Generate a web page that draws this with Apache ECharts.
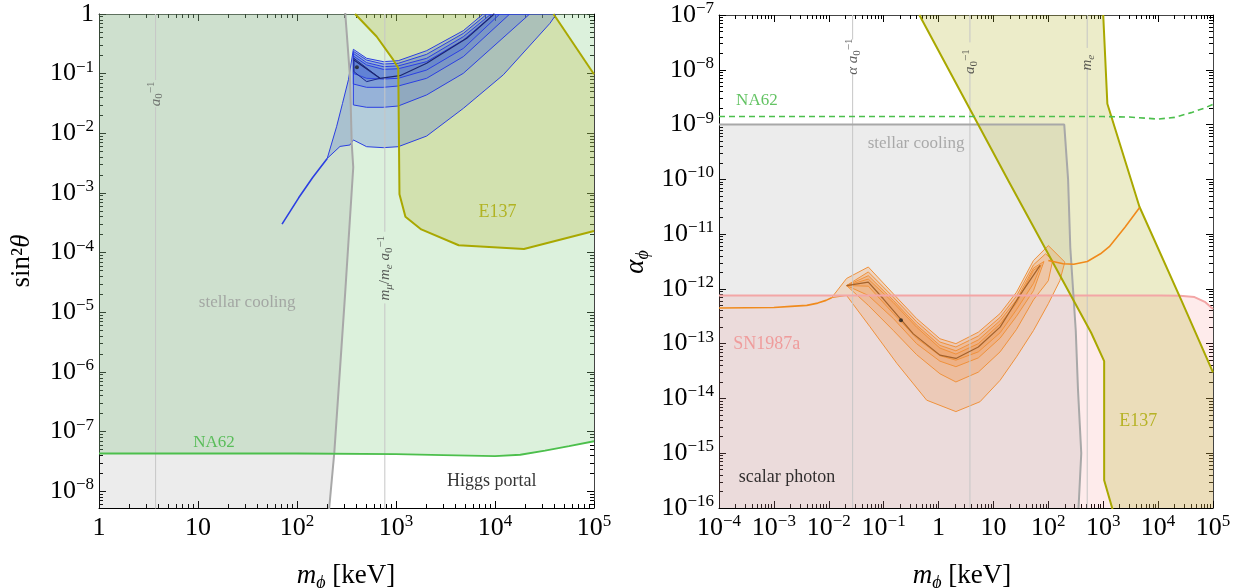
<!DOCTYPE html>
<html>
<head>
<meta charset="utf-8">
<script src="https://cdn.jsdelivr.net/npm/echarts@6/dist/echarts.min.js"></script>
<style>
html, body { margin: 0; padding: 0; background: #fff; }
#chart { width: 1247px; height: 588px; }
</style>
</head>
<body>
<div id="chart"></div>
<script>
// ---- left panel: Higgs portal, m_phi [keV] vs sin^2 theta ----
const hpRangeX = [1, 1e5];
const hpRangeY = [5.25e-9, 1];
const hpTicksX = [1, 10, 100, 1e3, 1e4, 1e5];
const hpTicksY = [1e-8, 1e-7, 1e-6, 1e-5, 1e-4, 1e-3, 1e-2, 1e-1, 1];

const hpStellar = [[305, 1.2], [343, 0.089], [357, 6.8e-3], [370, 2.7e-3], [306, 2.0e-5], [238, 4.4e-8], [211, 5.0e-9]];
const hpNA62 = [[1, 4.3e-8], [100, 4.3e-8], [1000, 4.2e-8], [3000, 4.05e-8], [1e4, 3.9e-8], [1.8e4, 4.1e-8], [3.2e4, 4.8e-8], [5.6e4, 5.7e-8], [1e5, 6.9e-8]];
const hpE137 = [[386, 1], [637, 0.42], [940, 0.17], [1054, 0.123], [1084, 9.5e-4], [1245, 4.0e-4], [1800, 2.45e-4], [4300, 1.33e-4], [19600, 1.15e-4], [1e5, 2.3e-4]];
const hpE137Edge = [[39000, 1], [1e5, 0.098]];
const hpTail = [[70.6, 3.0e-4], [104, 8.3e-4], [144, 1.82e-3], [202, 3.8e-3]];
const hpC1 = [[202, 3.8e-3], [251, 0.0129], [288, 0.0316], [331, 0.0794], [371, 0.256], [505, 0.181], [745, 0.159], [1054, 0.165], [2040, 0.243], [4790, 0.526], [7590, 1], [41700, 1], [35900, 0.698], [12130, 0.0955], [4790, 0.0262], [2040, 9.0e-3], [1054, 5.97e-3], [745, 5.75e-3], [505, 5.97e-3], [371, 7.74e-3], [343, 6.38e-3], [272, 6.03e-3]];
const hpC2 = [[371, 0.237], [505, 0.169], [745, 0.145], [1054, 0.149], [2040, 0.211], [4790, 0.474], [8300, 1], [22400, 1], [4790, 0.1014], [2040, 0.044], [1054, 0.0287], [745, 0.0273], [505, 0.0273], [371, 0.0299]];
const hpC3 = [[371, 0.219], [505, 0.153], [745, 0.131], [1054, 0.135], [2040, 0.181], [4790, 0.417], [9120, 1], [14100, 1], [4790, 0.193], [2040, 0.0836], [1054, 0.0621], [745, 0.059], [505, 0.059], [371, 0.0671]];
const hpC4 = [[371, 0.198], [505, 0.14], [745, 0.118], [1054, 0.121], [2040, 0.159], [4790, 0.366], [9800, 1], [11200, 1], [4790, 0.265], [2040, 0.115], [1054, 0.0836], [745, 0.0813], [505, 0.0836], [371, 0.101]];
const hpC5 = [[376, 0.181], [689, 0.0836], [505, 0.0735], [376, 0.108]];
const hpBestLine = [[376, 0.17], [689, 0.0836], [1096, 0.0925], [2040, 0.149], [5180, 0.391], [9550, 0.96], [10000, 1.12]];
const hpBestFit = [[403, 0.128]];

// ---- right panel: scalar photon, m_phi [keV] vs alpha_phi ----
const spRangeX = [1e-4, 1e5];
const spRangeY = [1e-16, 1e-7];
const spTicksX = [1e-4, 1e-3, 1e-2, 1e-1, 1, 10, 100, 1e3, 1e4, 1e5];
const spTicksY = [1e-16, 1e-15, 1e-14, 1e-13, 1e-12, 1e-11, 1e-10, 1e-9, 1e-8, 1e-7];

const spSN = [[1e-4, 7.6e-13], [1.1e4, 7.6e-13], [2.5e4, 7.5e-13], [4.6e4, 7.1e-13], [7.1e4, 5.8e-13], [1e5, 4.3e-13]];
const spStellar = [[1e-4, 1e-9], [195, 1e-9], [229, 1e-10], [251, 5.75e-12], [316, 1.74e-13], [347, 1.45e-14], [398, 1e-15], [355, 1e-16]];
const spNA62 = [[1e-4, 1.4e-9], [1000, 1.4e-9], [3000, 1.37e-9], [1e4, 1.26e-9], [2e4, 1.35e-9], [4e4, 1.65e-9], [7e4, 2.0e-9], [1e5, 2.35e-9]];
const spE137Lo = [[0.447, 1e-7], [18.6, 9.5e-11], [603, 1.58e-13], [1040, 4.8e-14], [1040, 3.2e-16], [1500, 9e-17]];
const spE137Hi = [[1000, 1e-7], [1189, 2.4e-9], [4570, 3.16e-11], [26300, 6.3e-13], [1e5, 3.0e-14]];
const spC1 = [[0.01127, 6.9e-13], [0.0211, 1.55e-12], [0.0525, 2.51e-12], [0.15, 8.13e-13], [0.398, 2.88e-13], [1.06, 1.23e-13], [2.07, 1.0e-13], [5.3, 1.62e-13], [13.2, 3.55e-13], [26.3, 8.71e-13], [53.7, 3.31e-12], [100, 6.17e-12], [200, 3.09e-12], [162, 1.41e-12], [100, 5.37e-13], [53.7, 1.74e-13], [26.3, 5.75e-14], [13.2, 2.14e-14], [5.68, 8.7e-15], [2.07, 5.75e-15], [0.607, 9.3e-15], [0.174, 4.37e-14], [0.0562, 2.04e-13], [0.0211, 7.59e-13]];
const spC2 = [[0.0211, 1.15e-12], [0.0525, 2.04e-12], [0.15, 7.08e-13], [0.398, 2.51e-13], [1.06, 1.07e-13], [2.07, 8.7e-14], [5.3, 1.38e-13], [13.2, 3.02e-13], [26.3, 7.41e-13], [53.7, 2.75e-12], [89.1, 4.37e-12], [120, 3.31e-12], [100, 1.41e-12], [53.7, 6.31e-13], [26.3, 1.82e-13], [13.2, 7.08e-14], [5.3, 3.02e-14], [2.07, 2.0e-14], [1.06, 2.82e-14], [0.398, 6.31e-14], [0.15, 1.74e-13], [0.0525, 5.01e-13]];
const spC3 = [[0.0211, 1.15e-12], [0.0525, 1.74e-12], [0.15, 6.17e-13], [0.398, 2.19e-13], [1.06, 9.3e-14], [2.07, 7.41e-14], [5.3, 1.17e-13], [13.2, 2.63e-13], [26.3, 6.31e-13], [53.7, 2.4e-12], [83.2, 3.16e-12], [53.7, 9.3e-13], [26.3, 3.16e-13], [13.2, 1.26e-13], [5.3, 5.5e-14], [2.07, 3.8e-14], [1.06, 4.79e-14], [0.398, 1.0e-13], [0.15, 2.88e-13], [0.0525, 7.59e-13]];
const spC4 = [[0.0211, 1.15e-12], [0.0525, 1.51e-12], [0.15, 5.62e-13], [0.398, 2.0e-13], [1.06, 8.3e-14], [2.07, 6.46e-14], [5.3, 1.0e-13], [13.2, 2.29e-13], [26.3, 5.5e-13], [53.7, 2.19e-12], [74.1, 2.75e-12], [53.7, 1.26e-12], [26.3, 4.17e-13], [13.2, 1.58e-13], [5.3, 7.08e-14], [2.07, 5.0e-14], [1.06, 6.03e-14], [0.398, 1.26e-13], [0.15, 3.55e-13], [0.0525, 1.12e-12]];
const spBestLine = [[0.0211, 1.15e-12], [0.0525, 1.33e-12], [0.0984, 6.6e-13], [0.347, 1.51e-13], [1.06, 6.17e-14], [2.07, 5.37e-14], [5.3, 8.7e-14], [13.2, 2.0e-13], [30.2, 7.59e-13], [70.8, 2.69e-12]];
const spBestFit = [[0.2065, 2.69e-13]];
const spLowMass = [[1e-4, 4.47e-13], [1e-3, 4.57e-13], [2.04e-3, 4.79e-13], [3.98e-3, 5.0e-13], [6.3e-3, 5.5e-13], [8.9e-3, 6.17e-13], [0.01127, 6.9e-13]];
const spHighMass = [[100, 3.31e-12], [186, 2.88e-12], [290, 2.82e-12], [513, 3.16e-12], [891, 4.37e-12], [1290, 5.89e-12], [2510, 1.35e-11], [4570, 3.02e-11]];

// reference masses: a0^-1 = 3.73 keV, alpha a0^-1, m_e, m_mu/m_e a0^-1
const refA0 = 3.73;
const refAlphaA0 = 0.0272;
const refMe = 511;
const refMuA0 = 771;

const FONT = '"Liberation Serif", "DejaVu Serif", serif';
const lg = Math.log10;
const toLog = pts => pts.map(p => [lg(p[0]), lg(p[1])]);

function fmtPow(v) {
    const n = Math.round(v);
    if (n === 0) return '{b|1}';
    if (n === 1) return '{b|10}';
    return '{b|10}{s|' + (n < 0 ? '\u2212' + (-n) : n) + '}';
}

const tickRich = {
    b: {fontFamily: FONT, fontSize: 26, lineHeight: 30, color: '#000'},
    s: {fontFamily: FONT, fontSize: 17, lineHeight: 17, color: '#000', verticalAlign: 'top'}
};

function minorTicks(lo, hi) {
    const out = [];
    for (let n = Math.floor(lo); n < Math.ceil(hi); n++) {
        for (let k = 2; k <= 9; k++) {
            const v = n + lg(k);
            if (v > lo && v < hi) out.push(v);
        }
    }
    return out;
}

// four axes per side pair: main (with labels), minor, opposite main, opposite minor
function frameAxes(dim, grid, range, ticks) {
    const lo = lg(range[0]), hi = lg(range[1]);
    const majors = ticks.map(lg);
    const sides = dim === 'x' ? ['bottom', 'top'] : ['left', 'right'];
    const axes = [];
    sides.forEach((pos, i) => {
        [majors, minorTicks(lo, hi)].forEach((vals, j) => {
            axes.push({
                type: 'value', gridIndex: grid, position: pos, min: lo, max: hi,
                axisLine: {show: j === 0, onZero: false, lineStyle: {color: i === 0 ? '#000' : '#444', width: 1}},
                axisTick: {show: true, inside: true, length: j === 0 ? 7 : 4, customValues: vals,
                    lineStyle: {color: '#000', width: 1}},
                axisLabel: {show: i === 0 && j === 0, customValues: majors, interval: 0,
                    formatter: fmtPow, rich: tickRich, margin: dim === 'x' ? 5 : 5},
                splitLine: {show: false}
            });
        });
    });
    return axes;
}

function polygon(g, pts, fill, stroke, lw) {
    const data = toLog(pts);
    return {
        type: 'custom', xAxisIndex: g * 4, yAxisIndex: g * 4, silent: true,
        data: data,
        renderItem: function (params, api) {
            if (params.dataIndex !== 0) return;
            const cs = params.coordSys;
            return {
                type: 'polygon',
                shape: {points: data.map(d => api.coord(d))},
                style: {fill: fill, stroke: stroke || 'none', lineWidth: lw || 0, lineJoin: 'round'},
                clipPath: {type: 'rect', shape: {x: cs.x, y: cs.y, width: cs.width, height: cs.height}}
            };
        }
    };
}

function curve(g, pts, color, width, type) {
    return {
        type: 'line', xAxisIndex: g * 4, yAxisIndex: g * 4, data: toLog(pts),
        showSymbol: false, symbol: 'none', silent: true, clip: true,
        lineStyle: {color: color, width: width, type: type || 'solid'}
    };
}

function noteRich(color, size) {
    const small = Math.round(size * 0.7);
    return {
        i: {fontFamily: FONT, fontStyle: 'italic', fontSize: size, lineHeight: size + 4, color: color},
        r: {fontFamily: FONT, fontSize: size, lineHeight: size + 4, color: color},
        sub: {fontFamily: FONT, fontStyle: 'italic', fontSize: small, lineHeight: small, color: color, verticalAlign: 'bottom'},
        subr: {fontFamily: FONT, fontSize: small, lineHeight: small, color: color, verticalAlign: 'bottom'},
        sup: {fontFamily: FONT, fontSize: small, lineHeight: small, color: color, verticalAlign: 'top'}
    };
}

function note(g, x, y, text, color, size, rotate) {
    return {
        type: 'scatter', xAxisIndex: g * 4, yAxisIndex: g * 4, symbolSize: 0, silent: true, z: 10,
        data: [[lg(x), lg(y)]],
        label: {show: true, position: 'inside', formatter: text, rotate: rotate || 0,
            color: color, fontSize: size, fontFamily: FONT, rich: noteRich(color, size)}
    };
}

function refLine(g, x, yTop, gapTop, gapBottom, yBottom) {
    return [
        curve(g, [[x, yTop], [x, gapTop]], '#c6c6c6', 1),
        curve(g, [[x, gapBottom], [x, yBottom]], '#c6c6c6', 1)
    ];
}

function dots(g, pts) {
    return {
        type: 'scatter', xAxisIndex: g * 4, yAxisIndex: g * 4, data: toLog(pts), silent: true, z: 8,
        symbolSize: 4, itemStyle: {color: '#222'}
    };
}

const GREEN_FILL = 'rgba(140,210,140,0.30)';
const GRAY_FILL = 'rgba(128,128,128,0.15)';
const OLIVE_FILL = 'rgba(180,180,40,0.25)';
const OLIVE = '#a9a800';
const GRAY_LINE = '#a8a8a8';
const BLUE_FILL = 'rgba(60,100,210,0.25)';
const BLUE = '#2b3fe2';
const ORANGE_FILL = 'rgba(240,140,60,0.22)';
const ORANGE = '#f0923c';
const PINK_FILL = 'rgba(245,120,120,0.15)';
const PINK = '#f3a6a6';
const NA62_GREEN = '#4cbf4c';

const series = [
    // left panel
    polygon(0, hpNA62.concat([[1e5, 1.5], [1, 1.5]]), GREEN_FILL),
    polygon(0, hpStellar.concat([[1, 5e-9], [1, 1.2]]), GRAY_FILL),
    polygon(0, hpE137.concat(hpE137Edge.slice().reverse()), OLIVE_FILL),
    ...refLine(0, refA0, 1, 0.078, 0.0275, 5e-9),
    ...refLine(0, refMuA0, 1, 2.24e-4, 1.41e-5, 5e-9),
    polygon(0, hpC1, BLUE_FILL, BLUE, 1),
    polygon(0, hpC2, BLUE_FILL, BLUE, 1),
    polygon(0, hpC3, BLUE_FILL, BLUE, 1),
    polygon(0, hpC4, BLUE_FILL, BLUE, 1),
    polygon(0, hpC5, 'rgba(60,90,210,0.25)', '#1c2a8a', 1),
    curve(0, hpTail, BLUE, 1.6),
    curve(0, hpBestLine, '#1c2570', 1.2),
    dots(0, hpBestFit),
    curve(0, hpE137, OLIVE, 2),
    curve(0, hpE137Edge, OLIVE, 2),
    curve(0, hpStellar, GRAY_LINE, 2),
    curve(0, hpNA62, NA62_GREEN, 1.8),
    note(0, refA0, 0.0457, '{i|a}{subr|0}{sup|\u22121}', '#555', 15, 90),
    note(0, refMuA0, 5.5e-5, '{i|m}{sub|\u03bc}{r|/}{i|m}{sub|e} {i|a}{subr|0}{sup|\u22121}', '#333', 15, 90),
    note(0, 10600, 4.7e-4, 'E137', OLIVE, 18),
    note(0, 31.4, 1.45e-5, 'stellar cooling', '#999', 17),
    note(0, 14.5, 6.5e-8, 'NA62', '#3cb43c', 17),
    note(0, 9250, 1.48e-8, 'Higgs portal', '#000', 18),

    // right panel
    polygon(1, spSN.concat([[1e5, 1e-16], [1e-4, 1e-16]]), PINK_FILL),
    polygon(1, spStellar.concat([[1e-4, 1e-16]]), GRAY_FILL),
    polygon(1, spE137Lo.concat([[1e5, 9e-17]], spE137Hi.slice().reverse()), OLIVE_FILL),
    ...refLine(1, refAlphaA0, 1e-7, 3.55e-8, 8.9e-9, 1e-16),
    ...refLine(1, refA0, 1e-7, 3.16e-8, 1.05e-8, 1e-16),
    ...refLine(1, refMe, 1e-7, 2.5e-8, 1.12e-8, 1e-16),
    polygon(1, spC1, ORANGE_FILL, ORANGE, 1),
    polygon(1, spC2, ORANGE_FILL, ORANGE, 1),
    polygon(1, spC3, ORANGE_FILL, ORANGE, 1),
    polygon(1, spC4, ORANGE_FILL, ORANGE, 1),
    curve(1, spBestLine, '#a3622c', 1.2),
    dots(1, spBestFit),
    curve(1, spSN, PINK, 2),
    curve(1, spStellar, GRAY_LINE, 2),
    curve(1, spE137Lo, OLIVE, 2),
    curve(1, spE137Hi, OLIVE, 2),
    curve(1, spNA62, NA62_GREEN, 1.6, [6, 4]),
    curve(1, spLowMass, '#f08a1c', 1.6),
    curve(1, spHighMass, '#f08a1c', 1.6),
    note(1, refAlphaA0, 1.74e-8, '{i|\u03b1} {i|a}{subr|0}{sup|\u22121}', '#333', 15, 90),
    note(1, refA0, 1.41e-8, '{i|a}{subr|0}{sup|\u22121}', '#333', 15, 90),
    note(1, refMe, 1.35e-8, '{i|m}{sub|e}', '#333', 15, 90),
    note(1, 4.9e-4, 2.75e-9, 'NA62', '#3cb43c', 17),
    note(1, 0.389, 4.47e-10, 'stellar cooling', '#999', 17),
    note(1, 7.4e-4, 9.8e-14, 'SN1987a', '#f08c8c', 18),
    note(1, 1.74e-3, 3.7e-16, 'scalar photon', '#000', 18),
    note(1, 4365, 3.8e-15, 'E137', OLIVE, 18)
];

const titleRich = {
    i: {fontFamily: FONT, fontStyle: 'italic', fontSize: 27, lineHeight: 32, fill: '#000'},
    r: {fontFamily: FONT, fontSize: 27, lineHeight: 32, fill: '#000'},
    sub: {fontFamily: FONT, fontStyle: 'italic', fontSize: 18, lineHeight: 18, fill: '#000', verticalAlign: 'bottom'}
};

function title(x, y, text, rot) {
    return {
        type: 'text', x: x, y: y, rotation: rot || 0, silent: true,
        style: {text: text, rich: titleRich, align: 'center', verticalAlign: 'middle', fill: '#000',
            fontFamily: FONT, fontSize: 27}
    };
}

const chart = echarts.init(document.getElementById('chart'));
chart.setOption({
    animation: false,
    backgroundColor: '#fff',
    grid: [
        {left: 99, top: 14, width: 495, height: 494},
        {left: 719, top: 14, width: 494, height: 494}
    ],
    xAxis: frameAxes('x', 0, hpRangeX, hpTicksX).concat(frameAxes('x', 1, spRangeX, spTicksX)),
    yAxis: frameAxes('y', 0, hpRangeY, hpTicksY).concat(frameAxes('y', 1, spRangeY, spTicksY)),
    graphic: [
        title(346, 576, '{i|m}{sub|\u03d5} {r|[keV]}'),
        title(962, 576, '{i|m}{sub|\u03d5} {r|[keV]}'),
        title(22, 261, '{r|sin\u00b2}{i|\u03b8}', Math.PI / 2),
        title(636, 262, '{i|\u03b1}{sub|\u03d5}', Math.PI / 2)
    ],
    series: series
});
</script>
</body>
</html>
